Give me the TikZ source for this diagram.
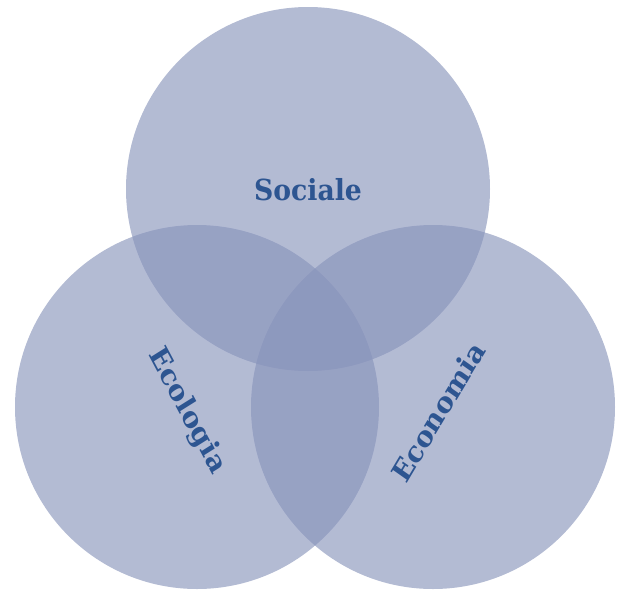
\documentclass[tikz,border=0pt]{standalone}
\usepackage{fontspec}
\setmainfont{DejaVu Serif}
\usepackage{tikz}
\definecolor{setfill}{RGB}{135,147,186}
\definecolor{settext}{RGB}{45,85,145}
\tikzset{
  setcircle/.style={fill=setfill, fill opacity=0.63, draw=none},
  setlabel/.style={text=settext, font=\bfseries\fontsize{29}{29}\selectfont, xscale=0.92, inner sep=0pt}
}

\begin{document}
\begin{tikzpicture}[x=1pt,y=-1pt]
\useasboundingbox (0,0) rectangle (622,590);
% the three sets
\fill[setcircle] (308,189) circle (182pt);
\fill[setcircle] (197,407) circle (182pt);
\fill[setcircle] (433,407) circle (182pt);
% labels
\node[setlabel] (sociale) at (308,190) {Sociale};
\node[setlabel, rotate=-60] (ecologia) at (187,411) {Ecologia};
\node[setlabel, rotate=57] (economia) at (438,412) {Economia};

\end{tikzpicture}
\end{document}
